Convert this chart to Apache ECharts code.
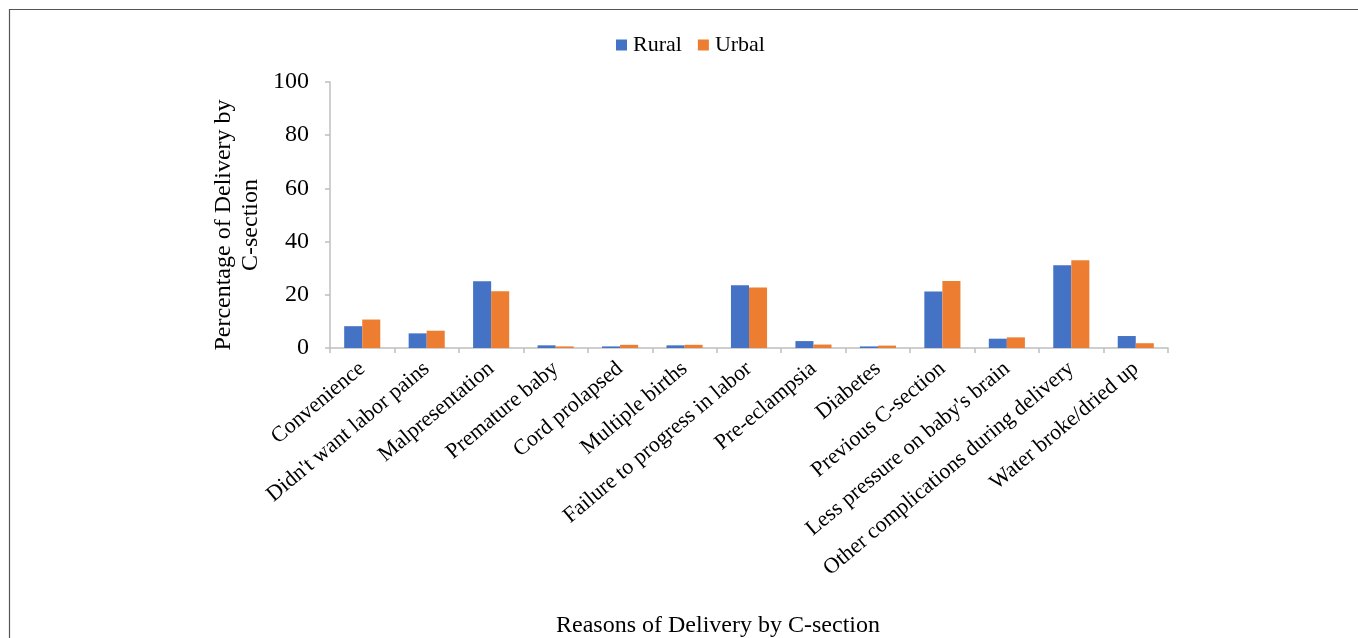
<!DOCTYPE html>
<html>
<head>
<meta charset="utf-8">
<script src="https://cdn.jsdelivr.net/npm/echarts@6/dist/echarts.min.js"></script>
<style>
html,body{margin:0;padding:0;background:#fff;}
#chart{width:1358px;height:638px;}
</style>
</head>
<body>
<div id="chart"></div>
<script>
const categories = ["Convenience","Didn't want labor pains","Malpresentation","Premature baby","Cord prolapsed","Multiple births","Failure to progress in labor","Pre-eclampsia","Diabetes","Previous C-section","Less pressure on baby's brain","Other complications during delivery","Water broke/dried up"];
const rural = [8.2, 5.5, 25.1, 1.0, 0.6, 1.0, 23.6, 2.6, 0.6, 21.2, 3.5, 31.1, 4.5];
const urbal = [10.7, 6.5, 21.3, 0.6, 1.2, 1.2, 22.7, 1.3, 0.9, 25.2, 4.0, 33.0, 1.8];
const seriesNames = ["Rural", "Urbal"];
const yAxisTitle = "Percentage of Delivery by\nC-section";
const xAxisTitle = "Reasons of Delivery by C-section";

const font = "'Liberation Serif', 'Times New Roman', serif";
const chart = echarts.init(document.getElementById('chart'));
chart.setOption({
  animation: false,
  backgroundColor: '#fff',
  textStyle: { fontFamily: font, color: '#000' },
  legend: {
    data: seriesNames,
    top: 29,
    left: 611,
    itemWidth: 11,
    itemHeight: 11,
    itemGap: 16,
    icon: 'rect',
    textStyle: { fontFamily: font, fontSize: 22, color: '#000', padding: [0, 0, 0, 1] }
  },
  grid: { left: 330, right: 190, top: 82, bottom: 290, containLabel: false },
  xAxis: {
    type: 'category',
    data: categories,
    axisLine: { lineStyle: { color: '#bfbfbf', width: 1.5 } },
    axisTick: { show: true, length: 5, lineStyle: { color: '#bfbfbf', width: 1.5 } },
    axisLabel: { rotate: 40, fontFamily: font, fontSize: 22, color: '#000', margin: 18, interval: 0 }
  },
  yAxis: {
    type: 'value',
    min: 0, max: 100, interval: 20,
    axisLine: { show: true, lineStyle: { color: '#bfbfbf', width: 1.5 } },
    axisTick: { show: true, length: 5, lineStyle: { color: '#bfbfbf', width: 1.5 } },
    splitLine: { show: false },
    axisLabel: { fontFamily: font, fontSize: 24, color: '#000', margin: 21 }
  },
  series: [
    { name: seriesNames[0], type: 'bar', data: rural, itemStyle: { color: '#4472C4' }, barGap: '0%', barCategoryGap: '44%' },
    { name: seriesNames[1], type: 'bar', data: urbal, itemStyle: { color: '#ED7D31' }, barGap: '0%', barCategoryGap: '44%' }
  ],
  graphic: [
    { type: 'rect', shape: { x: 9.5, y: 9.5, width: 1400, height: 700 }, style: { fill: 'none', stroke: '#555', lineWidth: 1.2 }, silent: true },
    { type: 'text', x: 237, y: 225, rotation: Math.PI / 2,
      style: { text: yAxisTitle, font: "24px 'Liberation Serif', serif", fill: '#000', align: 'center', verticalAlign: 'middle', lineHeight: 27 } },
    { type: 'text', x: 718, y: 626,
      style: { text: xAxisTitle, font: "24px 'Liberation Serif', serif", fill: '#000', align: 'center', verticalAlign: 'middle' } }
  ]
});
</script>
</body>
</html>
